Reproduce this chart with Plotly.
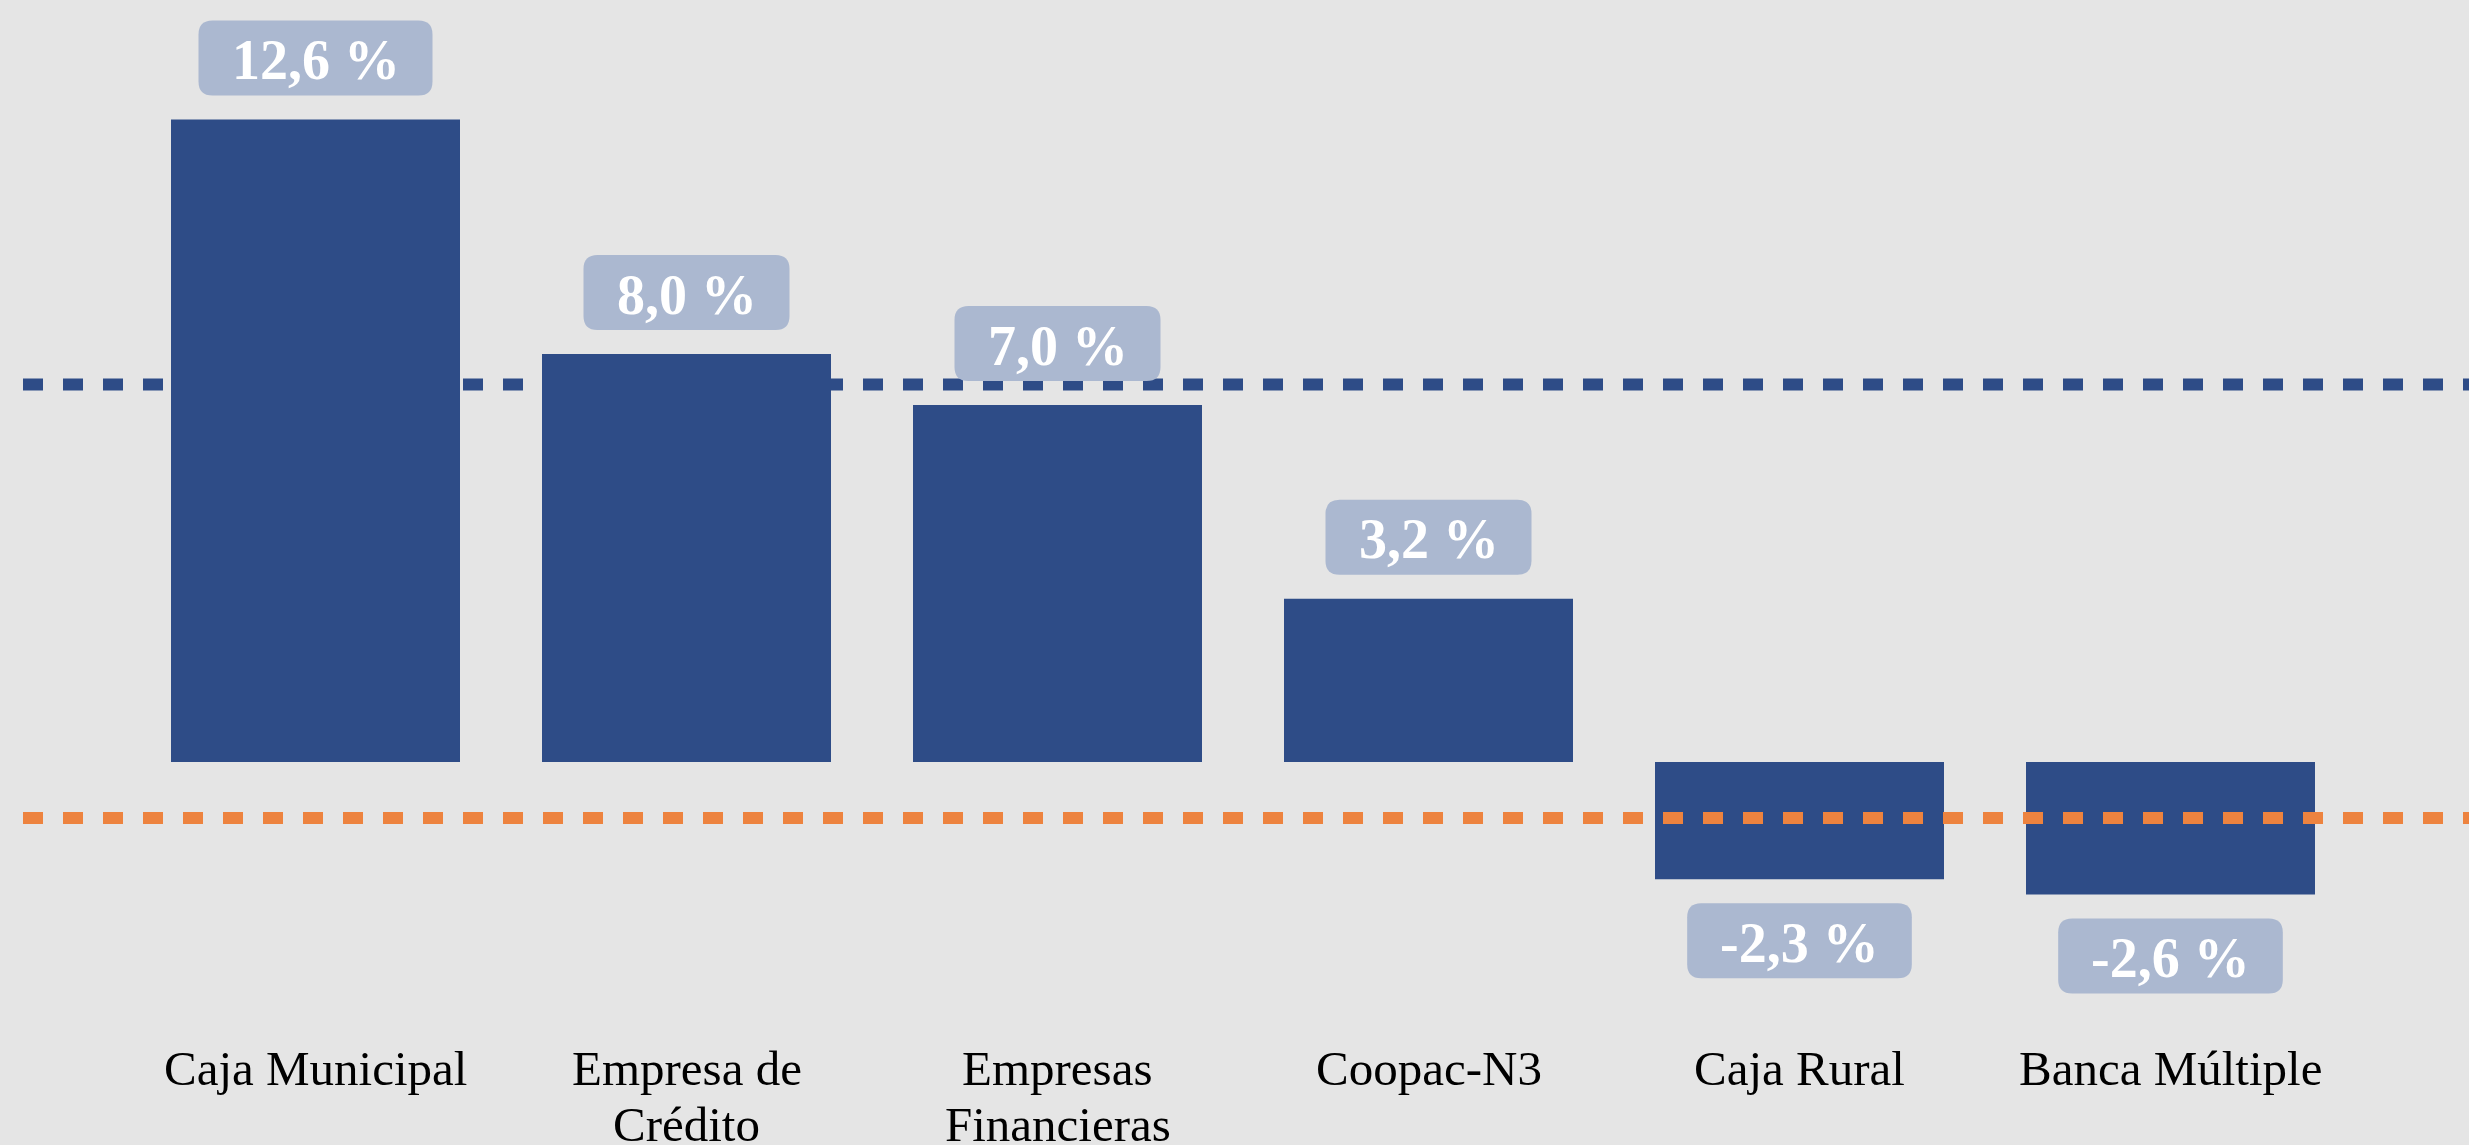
import plotly.graph_objects as go

# ---- data ----
categories = ["Caja Municipal", "Empresa de<br>Crédito", "Empresas<br>Financieras",
              "Coopac-N3", "Caja Rural", "Banca Múltiple"]
values = [12.6, 8.0, 7.0, 3.2, -2.3, -2.6]
value_labels = ["12,6 %", "8,0 %", "7,0 %", "3,2 %", "-2,3 %", "-2,6 %"]
ref_blue = 7.4     # blue dashed reference level
ref_orange = -1.1  # orange dashed reference level

# ---- style ----
W, H = 2469, 1145
BG = "#E5E5E5"
BAR = "#2E4C87"
BOX = "#ABB8D0"
ORANGE = "#ED833F"
SERIF = "Liberation Serif, Times New Roman, serif"

PX_PER_UNIT = 51.0
BASE_PX = 762.0
CAT0_PX = 315.5
CAT_STEP = 371.0

x_lo = -CAT0_PX / CAT_STEP
x_hi = (W - CAT0_PX) / CAT_STEP
y_hi = BASE_PX / PX_PER_UNIT
y_lo = -(H - BASE_PX) / PX_PER_UNIT

xs = list(range(len(categories)))

fig = go.Figure(go.Bar(
    x=xs, y=values, marker=dict(color=BAR, line=dict(width=0)),
    width=289 / CAT_STEP, hoverinfo="skip"))

shapes = []
# dashed reference lines
for lvl, col in [(ref_blue, BAR), (ref_orange, ORANGE)]:
    shapes.append(dict(type="line", xref="paper", yref="y", x0=23 / W, x1=1,
                       y0=lvl, y1=lvl, line=dict(color=col, width=12, dash="20px,20px"),
                       layer="above"))

cw = {"0": .5, "1": .5, "2": .5, "3": .5, "4": .5, "5": .5, "6": .5, "7": .5,
      "8": .5, "9": .5, ",": .25, " ": .25, "%": 1.0, "-": .333}
FS = 56

def rrect(x0, y0, x1, y1, r):
    xa, xb = min(x0, x1), max(x0, x1)
    ya, yb = min(y0, y1), max(y0, y1)
    return (f"M {xa + r},{ya} L {xb - r},{ya} Q {xb},{ya} {xb},{ya + r} "
            f"L {xb},{yb - r} Q {xb},{yb} {xb - r},{yb} L {xa + r},{yb} "
            f"Q {xa},{yb} {xa},{yb - r} L {xa},{ya + r} Q {xa},{ya} {xa + r},{ya} Z")

annotations = []
GAP, BH = 24, 75
for i, (v, lab) in enumerate(zip(values, value_labels)):
    tw = sum(cw.get(c, .5) for c in lab) * FS
    bw = tw + 66
    sgn = 1 if v >= 0 else -1
    shapes.append(dict(type="path", xref="x", yref="y", xsizemode="pixel", ysizemode="pixel",
                       xanchor=i, yanchor=v,
                       path=rrect(-bw / 2, sgn * GAP, bw / 2, sgn * (GAP + BH), 14),
                       fillcolor=BOX, line=dict(width=0), layer="above"))
    annotations.append(dict(x=i, y=v, xref="x", yref="y", text=f"<b>{lab}</b>",
                            showarrow=False, yanchor="middle", xanchor="center",
                            yshift=sgn * (GAP + BH / 2) - 2,
                            font=dict(family=SERIF, size=FS, color="white")))

# category labels (each line placed separately for tighter line spacing)
LINE_PITCH = 56
for i, c in enumerate(categories):
    for k, line in enumerate(c.split("<br>")):
        annotations.append(dict(x=i, y=-(1039 - BASE_PX) / PX_PER_UNIT, xref="x", yref="y",
                                text=line, showarrow=False, yanchor="top", xanchor="center",
                                yshift=-LINE_PITCH * k,
                                font=dict(family=SERIF, size=49, color="black")))

fig.update_layout(
    width=W, height=H,
    margin=dict(l=0, r=0, t=0, b=0),
    paper_bgcolor=BG, plot_bgcolor=BG,
    showlegend=False,
    xaxis=dict(range=[x_lo, x_hi], visible=False, fixedrange=True),
    yaxis=dict(range=[y_lo, y_hi], visible=False, fixedrange=True, zeroline=False),
    shapes=shapes, annotations=annotations,
)

fig.write_html("out.html", config={"displayModeBar": False},
               post_script="document.body.style.margin='0';document.body.style.overflow='hidden';")
